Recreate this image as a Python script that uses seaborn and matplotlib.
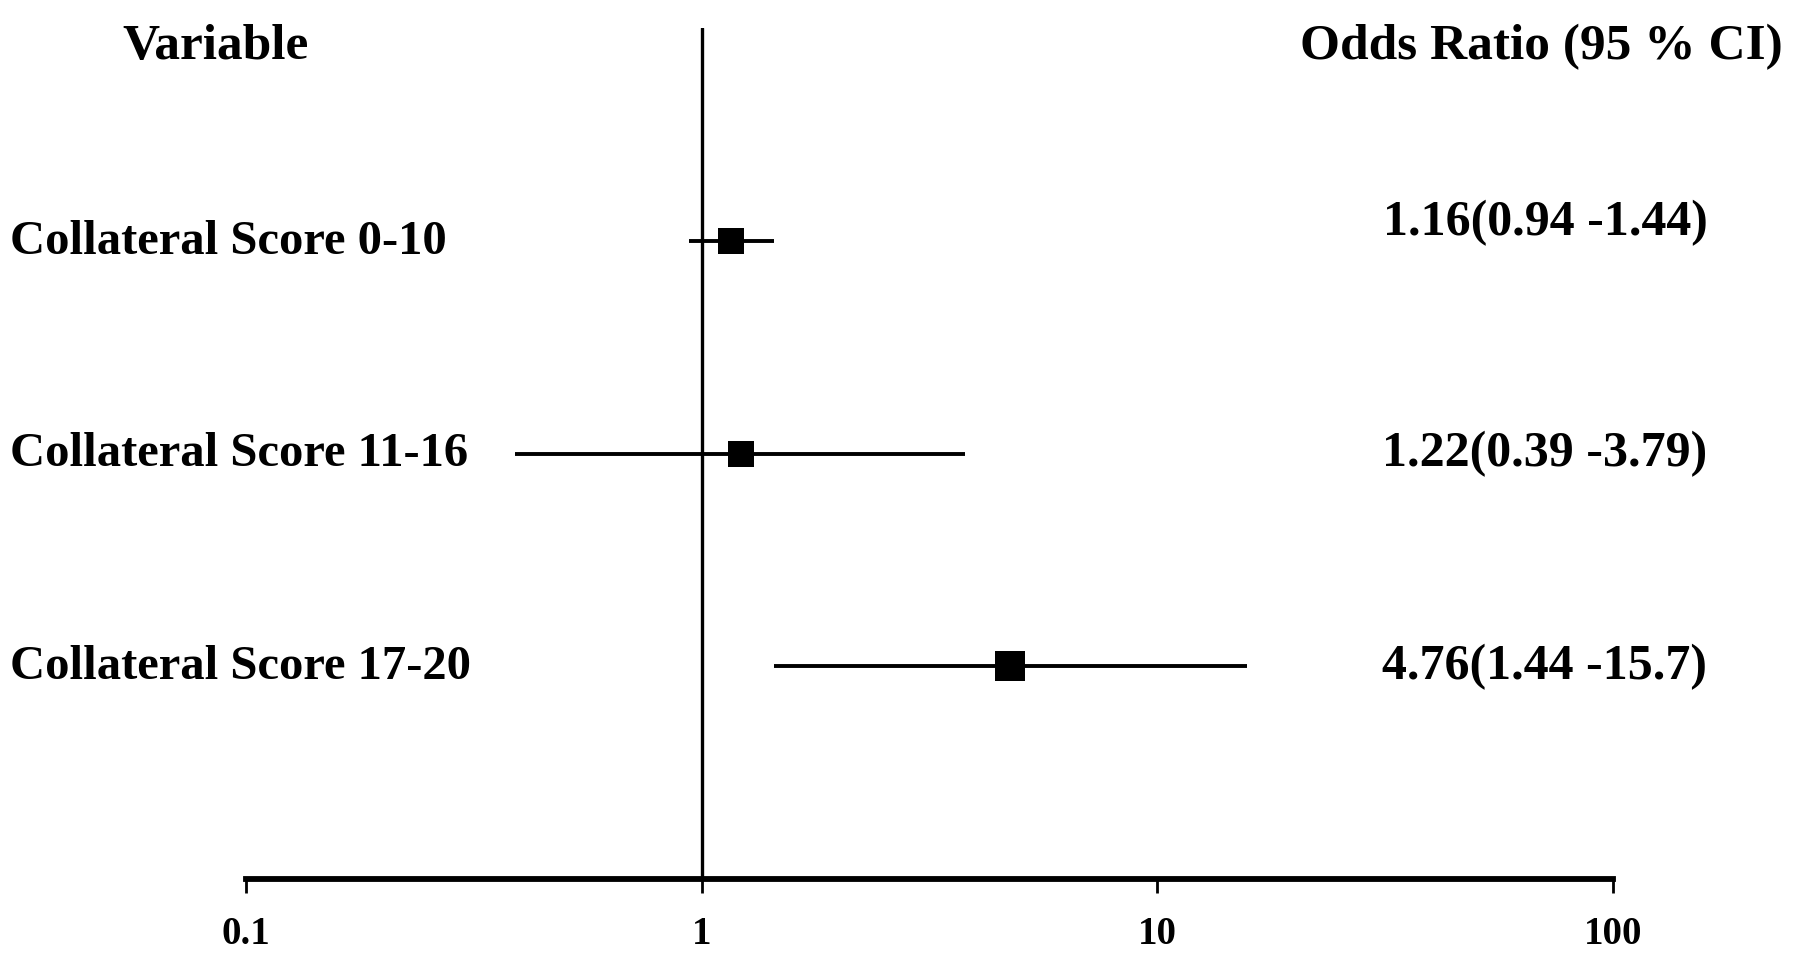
import numpy as np
import pandas as pd
import matplotlib
matplotlib.use("Agg")
import matplotlib.pyplot as plt
import matplotlib.transforms as mtransforms
import seaborn as sns

# data
variables = ["Collateral Score 0-10", "Collateral Score 11-16", "Collateral Score 17-20"]
odds_ratio = [1.16, 1.22, 4.76]
ci_low = [0.94, 0.39, 1.44]
ci_high = [1.44, 3.79, 15.7]
ci_text = ["1.16(0.94 -1.44)", "1.22(0.39 -3.79)", "4.76(1.44 -15.7)"]
xticks = [0.1, 1, 10, 100]
xtick_labels = ["0.1", "1", "10", "100"]

# layout (pixels of the 1800x962 canvas)
W, H = 1800, 962
row_y = [3, 2, 1]
marker_pt = [19, 19, 22]
text_nudge = [0.09, 0.0, 0.0]

sns.set_theme(style="white")
plt.rcParams["font.family"] = ["Liberation Serif", "DejaVu Serif"]
plt.rcParams["font.weight"] = "bold"
plt.rcParams["text.color"] = "black"
plt.rcParams["xtick.color"] = "black"

df = pd.DataFrame({"variable": variables, "or": odds_ratio, "lo": ci_low,
                   "hi": ci_high, "y": row_y, "ms": marker_pt})

fig = plt.figure(figsize=(W / 100, H / 100), dpi=100)
ax = fig.add_axes([246 / W, 82 / H, (1613 - 246) / W, (880 - 29) / H])

ax.axvline(1, color="black", lw=2.4, zorder=1)
ax.hlines(df["y"], df["lo"], df["hi"], color="black", lw=2.8, zorder=2)
for _, r in df.iterrows():
    sns.scatterplot(x=[r["or"]], y=[r["y"]], marker="s", s=r["ms"] ** 2,
                    color="black", edgecolor="black", linewidth=0, ax=ax, zorder=3)

ax.set_xscale("log")
ax.set_xlim(0.1, 100)
ax.set_ylim(0, 4)
ax.set_xticks(xticks)
ax.set_xticklabels(xtick_labels, fontsize=28, fontweight="bold")
ax.minorticks_off()
ax.set_yticks([])
ax.set_xlabel("")
ax.set_ylabel("")
for side in ["top", "right", "left"]:
    ax.spines[side].set_visible(False)
ax.spines["bottom"].set_linewidth(4.2)
ax.spines["bottom"].set_color("black")
ax.tick_params(axis="x", bottom=True, direction="out", length=10, width=2,
               color="black", labelcolor="black", pad=16)

trans = mtransforms.blended_transform_factory(fig.transFigure, ax.transData)
for name, y, txt, dy in zip(variables, row_y, ci_text, text_nudge):
    ax.text(10 / W, y, name, transform=trans, ha="left", va="center",
            fontsize=35, fontweight="bold")
    ax.text(1545 / W, y + dy, txt, transform=trans, ha="center", va="center",
            fontsize=36, fontweight="bold")

fig.text(216 / W, 1 - 47 / H, "Variable", ha="center", va="center",
         fontsize=37, fontweight="bold")
fig.text(1541 / W, 1 - 47 / H, "Odds Ratio (95 % CI)", ha="center", va="center",
         fontsize=37, fontweight="bold")

fig.savefig("out.png", dpi=100, facecolor="white")
